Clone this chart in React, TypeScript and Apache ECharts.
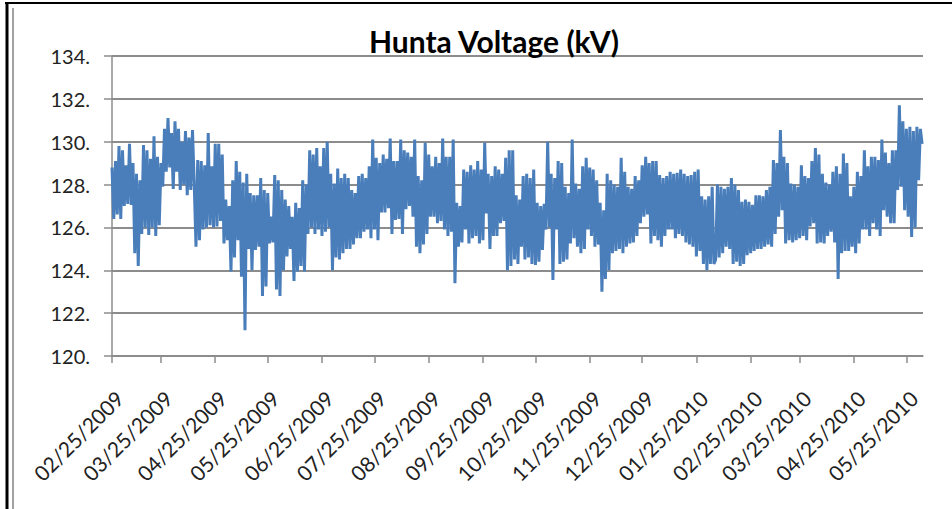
import React, { useEffect, useRef } from "react";
import * as echarts from "echarts";

// Daily readings (kV) from 02/25/2009, one value per day
const voltsFebToJun2009: number[] = [
  128.8, 126.4, 129.1, 126.6, 129.8, 126.4, 129.6, 127.0, 128.9, 127.1,
  129.9, 127.05, 129.0, 124.8, 128.5, 124.2, 128.2, 125.7, 129.85, 126.0,
  129.6, 125.65, 129.2, 126.0, 130.25, 125.6, 129.3, 126.1, 129.0, 127.9,
  130.6, 128.6, 131.1, 128.8, 130.4, 127.8, 130.95, 128.6, 130.6, 127.75,
  130.0, 128.0, 130.5, 127.5, 130.2, 127.75, 130.55, 128.0, 125.1, 129.15,
  125.4, 129.1, 125.9, 128.9, 126.0, 130.4, 126.1, 128.85, 126.0, 129.9,
  126.05, 129.9, 126.3, 129.4, 125.25, 127.3, 125.4, 127.0, 123.95, 128.2,
  124.6, 129.1, 125.4, 128.6, 123.7, 128.1, 121.2, 128.5, 125.0, 127.6,
  124.0, 127.5, 124.95, 127.5, 125.1, 128.3, 122.8, 127.75, 123.25, 127.6,
  125.25, 126.5, 125.3, 128.45, 123.1, 128.2, 122.8, 127.75, 124.0, 127.3,
  124.65, 127.0, 125.0, 126.5, 123.5, 127.15, 123.95, 126.9, 124.2, 128.2,
  123.95, 128.0, 125.7, 129.6, 126.0, 129.4,
];

const voltsJunToOct2009: number[] = [
  125.7, 129.7, 125.9, 128.85, 125.6, 129.7, 125.8, 130.0, 126.0, 128.5,
  124.0, 128.05, 124.6, 128.75, 124.5, 128.3, 124.8, 128.5, 125.0, 128.3,
  125.0, 127.75, 125.2, 127.6, 125.5, 128.4, 125.5, 128.5, 125.8, 128.3,
  125.9, 128.85, 125.5, 130.1, 125.9, 129.25, 125.4, 129.0, 126.7, 129.4,
  126.7, 129.2, 126.9, 130.15, 125.7, 129.1, 126.35, 129.1, 126.4, 130.1,
  125.7, 129.6, 126.85, 129.5, 127.0, 129.3, 126.5, 130.1, 125.1, 128.4,
  124.8, 128.2, 125.2, 129.95, 125.7, 129.4, 126.5, 128.85, 126.5, 129.3,
  126.2, 129.0, 126.3, 130.15, 125.9, 129.3, 125.6, 129.3, 125.8, 130.1,
  123.4, 127.15, 125.1, 127.0, 125.3, 128.7, 125.9, 128.6, 125.25, 128.9,
  125.5, 128.7, 125.6, 129.1, 125.25, 128.7, 125.4, 129.95, 126.65, 128.5,
  125.0, 128.4, 125.6, 128.85, 125.6, 128.7, 126.2, 128.5, 126.3, 129.25,
  124.0, 129.6, 124.2, 129.6, 124.5,
];

const voltsOct2009ToFeb2010: number[] = [
  127.5, 124.3, 127.3, 125.1, 128.4, 124.5, 128.5, 124.6, 128.3, 124.3,
  128.7, 124.25, 127.15, 124.4, 127.0, 124.95, 127.1, 125.9, 130.0, 126.0,
  128.5, 123.55, 128.3, 125.9, 129.1, 124.3, 129.0, 124.4, 127.9, 124.5,
  127.6, 125.25, 130.1, 125.5, 128.05, 125.1, 127.8, 124.8, 128.85, 125.0,
  129.25, 125.9, 128.8, 125.6, 128.7, 125.1, 128.2, 125.2, 127.15, 123.0,
  126.8, 123.6, 128.5, 124.0, 128.2, 124.8, 128.0, 124.9, 127.9, 125.0,
  129.25, 124.8, 128.6, 125.1, 127.9, 125.25, 127.8, 125.3, 128.4, 125.6,
  128.2, 126.2, 128.9, 126.5, 129.3, 126.6, 129.0, 125.25, 129.1, 125.6,
  129.1, 125.4, 128.45, 125.1, 128.3, 125.6, 128.4, 125.9, 128.6, 125.9,
  128.5, 125.5, 128.55, 125.7, 128.7, 125.6, 128.5, 125.3, 128.4, 125.2,
  128.45, 125.1, 128.6, 124.65, 128.7, 124.9, 127.45, 124.3, 127.3, 124.0,
  127.45, 124.3, 127.9, 124.3,
];

const voltsFebToJun2010: number[] = [
  124.5, 128.0, 124.6, 127.9, 124.8, 127.8, 125.1, 127.9, 125.0, 128.3,
  124.3, 128.0, 124.4, 127.75, 124.2, 127.2, 124.3, 127.3, 124.7, 127.2,
  124.8, 127.05, 124.9, 127.5, 125.0, 127.5, 125.0, 127.45, 125.1, 127.75,
  125.2, 127.9, 125.1, 129.15, 125.7, 129.0, 126.5, 130.55, 126.8, 129.3,
  125.25, 129.0, 125.4, 128.05, 125.3, 128.0, 125.4, 127.9, 125.5, 128.9,
  125.6, 128.4, 125.4, 128.3, 126.05, 129.1, 126.2, 129.7, 125.25, 129.4,
  125.3, 128.5, 125.25, 128.1, 125.6, 128.0, 125.8, 128.6, 125.3, 128.85,
  123.6, 128.5, 124.8, 129.45, 124.9, 129.0, 124.9, 127.45, 125.1, 127.9,
  124.8, 128.6, 125.25, 128.4, 125.9, 129.6, 125.9, 128.85, 125.6, 129.3,
  126.2, 129.3, 125.9, 129.15, 125.6, 130.1, 126.8, 129.5, 126.5, 129.0,
  126.2, 129.6, 126.2, 129.6, 127.75, 131.7, 127.9, 130.95, 126.8, 130.6,
  126.5, 130.7, 125.55, 130.5, 126.0, 130.7, 128.2, 130.6, 129.9,
];

const startDate = "02/25/2009";
const tickLabels: string[] = [
  "02/25/2009", "03/25/2009", "04/25/2009", "05/25/2009", "06/25/2009",
  "07/25/2009", "08/25/2009", "09/25/2009", "10/25/2009", "11/25/2009",
  "12/25/2009", "01/25/2010", "02/25/2010", "03/25/2010", "04/25/2010",
  "05/25/2010",
];
const yTicks: number[] = [120, 122, 124, 126, 128, 130, 132, 134];
const title = "Hunta Voltage (kV)";

function toUTC(label: string): number {
  const [m, d, y] = label.split("/").map(Number);
  return Date.UTC(y, m - 1, d);
}
const DAY = 86400000;
const start = toUTC(startDate);
const tickDays = tickLabels.map((l) => Math.round((toUTC(l) - start) / DAY));
const labelByDay: Record<number, string> = {};
tickDays.forEach((d, i) => (labelByDay[d] = tickLabels[i]));

const volts = [
  ...voltsFebToJun2009,
  ...voltsJunToOct2009,
  ...voltsOct2009ToFeb2010,
  ...voltsFebToJun2010,
];

export default function App() {
  const ref = useRef<HTMLDivElement>(null);
  useEffect(() => {
    if (!ref.current) return;
    const chart = echarts.init(ref.current, null, { renderer: "svg" });
    const axisColor = "#8c8c8c";
    const font = "Lato, 'Noto Sans', sans-serif";
    chart.setOption({
      animation: false,
      backgroundColor: "#ffffff",
      title: {
        text: title,
        left: 489,
        top: 21,
        textAlign: "center",
        textStyle: { fontFamily: font, fontSize: 30, fontWeight: "bold", color: "#000" },
      },
      grid: { left: 112, right: 29, top: 56, bottom: 153, containLabel: false },
      xAxis: {
        type: "value",
        min: 0,
        max: 463.5,
        splitLine: { show: false },
        axisLine: { show: true, lineStyle: { color: axisColor, width: 1.5 } },
        axisTick: {
          show: true,
          customValues: tickDays,
          length: 7,
          lineStyle: { color: axisColor, width: 1.5 },
        },
        axisLabel: {
          customValues: tickDays,
          formatter: (v: number) => labelByDay[Math.round(v)] ?? "",
          rotate: 45,
          margin: 31,
          verticalAlign: "top",
          fontFamily: font,
          fontSize: 21,
          color: "#222",
        },
      },
      yAxis: {
        type: "value",
        min: yTicks[0],
        max: yTicks[yTicks.length - 1],
        interval: 2,
        axisLine: { show: true, lineStyle: { color: axisColor, width: 1.5 } },
        axisTick: { show: true, length: 8, lineStyle: { color: axisColor, width: 1.5 } },
        splitLine: { show: true, lineStyle: { color: axisColor, width: 2 } },
        axisLabel: {
          formatter: (v: number) => `${v}.`,
          margin: 22,
          fontFamily: font,
          fontSize: 20,
          color: "#222",
        },
      },
      series: [
        {
          type: "line",
          name: title,
          showSymbol: false,
          data: volts.map((v, i) => [i, v]),
          lineStyle: { color: "#4a7ebb", width: 3 },
          itemStyle: { color: "#4a7ebb" },
        },
      ],
      graphic: [
        { type: "line", shape: { x1: 5, y1: 3, x2: 952, y2: 3 }, style: { stroke: "#000", lineWidth: 2 } },
        { type: "line", shape: { x1: 7, y1: 3, x2: 7, y2: 509 }, style: { stroke: "#000", lineWidth: 3 } },
        { type: "line", shape: { x1: 13, y1: 8, x2: 13, y2: 509 }, style: { stroke: "#444", lineWidth: 1 } },
      ],
    });
    return () => chart.dispose();
  }, []);
  return (
    <div
      ref={ref}
      style={{ position: "fixed", left: 0, top: 0, width: 952, height: 509 }}
    />
  );
}
